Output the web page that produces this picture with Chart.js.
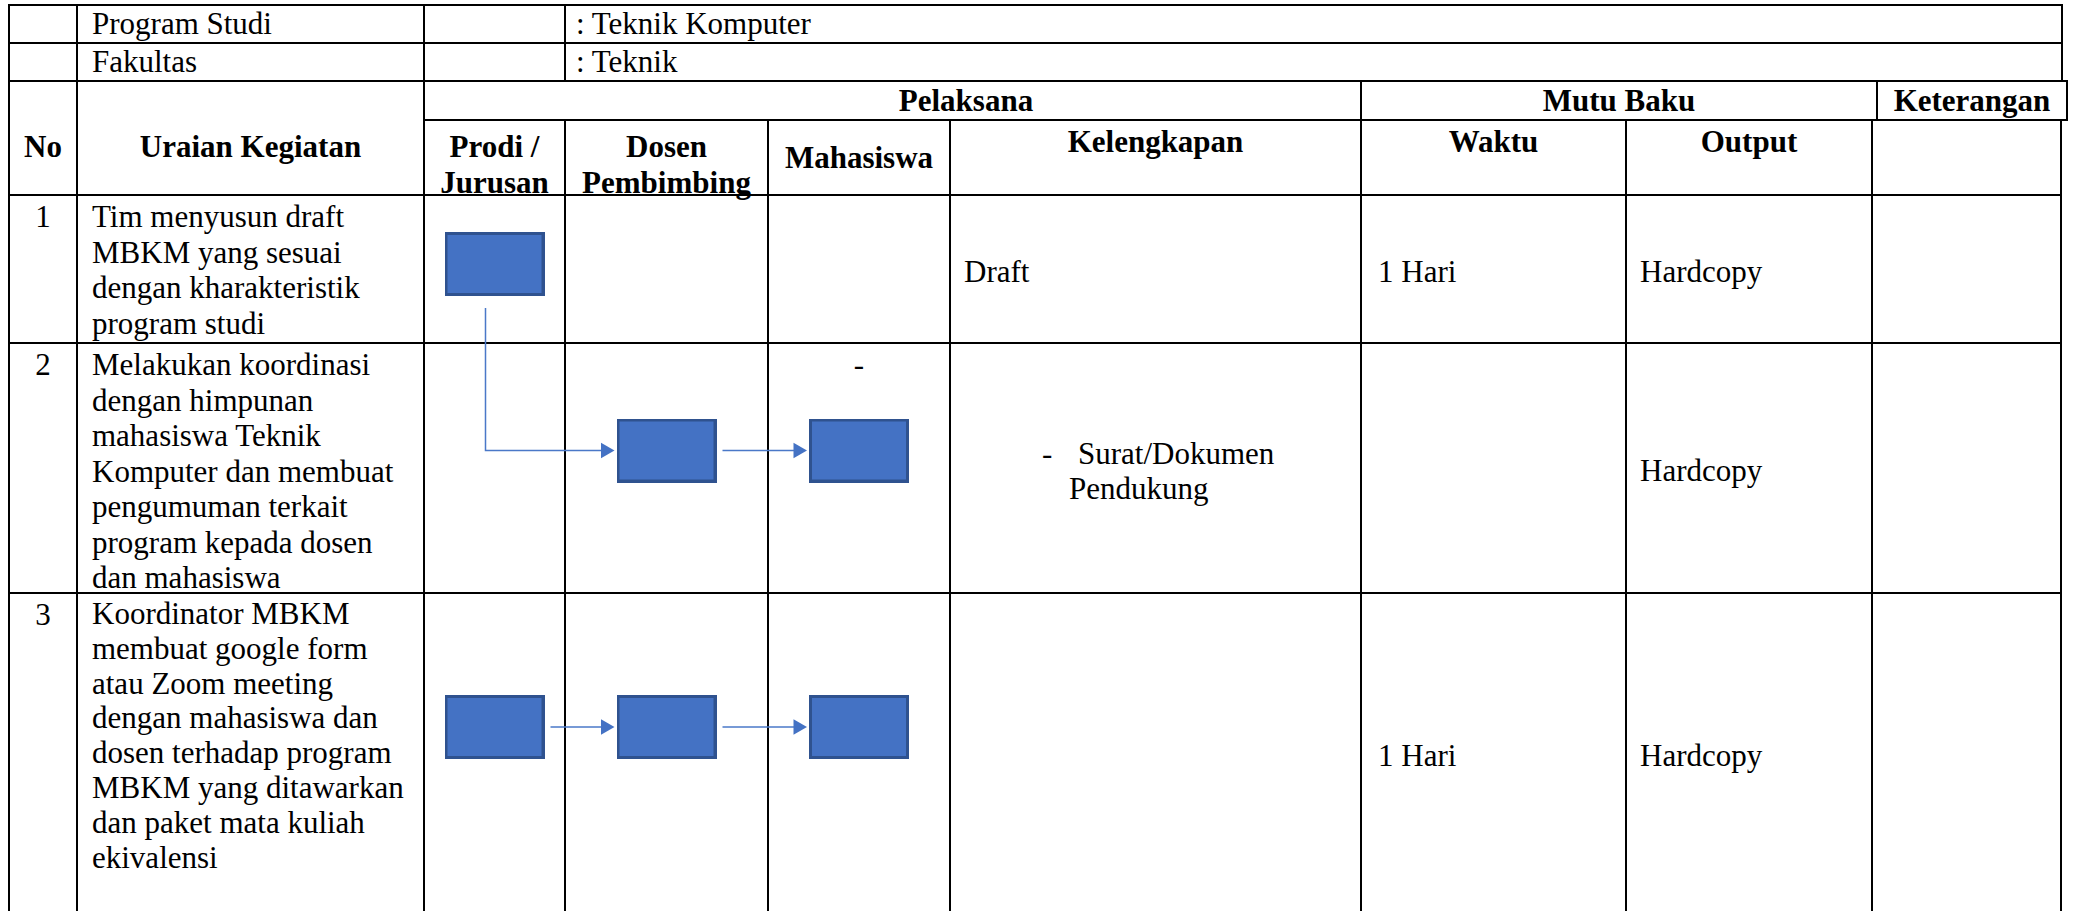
<!DOCTYPE html>
<html lang="id">
<head>
<meta charset="utf-8">
<title>SOP MBKM</title>
<script src="https://cdn.jsdelivr.net/npm/chart.js@4.4.1/dist/chart.umd.min.js"></script>
<style>
html,body{margin:0;padding:0;background:#fff;}
body{width:2075px;height:911px;overflow:hidden;position:relative;font-family:'Liberation Serif','Times New Roman',serif;font-size:31px;line-height:35.5px;color:#000;}
.c{position:absolute;box-sizing:border-box;border:2px solid #000;display:flex;flex-direction:column;white-space:nowrap;}
.b{font-weight:bold;}
#flow{position:absolute;left:0;top:0;width:2075px;height:911px;pointer-events:none;}
</style>
</head>
<body>
<div id="tbl"></div>
<canvas id="flow" width="2075" height="911"></canvas>
<script>
// isi tabel
var TOP_LABELS=['Program Studi','Fakultas'];
var TOP_VALUES=[': Teknik Komputer',': Teknik'];
var LANES=[['Prodi /','Jurusan'],['Dosen','Pembimbing'],['Mahasiswa']];
var COLS_RIGHT=['Kelengkapan','Waktu','Output'];
var STEP_NO=['1','2','3'];
var STEP_TEXT=[
  ['Tim menyusun draft','MBKM yang sesuai','dengan kharakteristik','program studi'],
  ['Melakukan koordinasi','dengan himpunan','mahasiswa Teknik','Komputer dan membuat','pengumuman terkait','program kepada dosen','dan mahasiswa'],
  ['Koordinator MBKM','membuat google form','atau Zoom meeting','dengan mahasiswa dan','dosen terhadap program','MBKM yang ditawarkan','dan paket mata kuliah','ekivalensi']
];
var LANE_NOTE=[['','',''],['','','-'],['','','']];
var KELENGKAPAN=[['Draft'],['- Surat/Dokumen','Pendukung'],[]];
var WAKTU=['1 Hari','','1 Hari'];
var OUTPUT=['Hardcopy','Hardcopy','Hardcopy'];

// alur: kotak (langkah, jalur) dan panah antar kotak
var BOX_STEP=[0,1,1,2,2,2];
var BOX_LANE=[0,1,2,0,1,2];
var LINK_FROM=[0,1,3,4];
var LINK_TO=[1,2,4,5];

// tata letak (px)
var COLX=[9,77,424,565,768,950,1361,1626,1872,2061];
var ROWY=[5,43,81,120,195,343,593,913];
var ROW_LH=[35.5,35.5,34.8];
var BOX_W=100, BOX_H=64, GAP=6, ARROW_R=9, ELBOW_DX=9;
var BLUE='#4472C4', BLUE_DARK='#2F528F', BLUE_LINE='#4a78c8';

var tbl=document.getElementById('tbl');
function cell(x0,x1,y0,y1,html,o){
  o=o||{};
  var d=document.createElement('div');
  d.className='c'+(o.b?' b':'');
  d.style.left=(x0-1)+'px'; d.style.top=(y0-1)+'px';
  d.style.width=(x1-x0+2)+'px'; d.style.height=(y1-y0+2)+'px';
  d.style.justifyContent=o.mid?'center':'flex-start';
  d.style.alignItems=o.ctr?'center':'flex-start';
  d.style.paddingLeft=(o.pl||0)+'px'; d.style.paddingTop=(o.pt||0)+'px';
  if(o.lh) d.style.lineHeight=o.lh+'px';
  if(html) d.innerHTML='<div style="text-align:'+(o.ctr?'center':'left')+'">'+html+'</div>';
  tbl.appendChild(d);
}
var X=COLX, Y=ROWY;

// baris identitas
TOP_LABELS.forEach(function(t,r){
  cell(X[0],X[1],Y[r],Y[r+1],'');
  cell(X[1],X[2],Y[r],Y[r+1],t,{mid:1,pl:92-X[1]-1});
  cell(X[2],X[3],Y[r],Y[r+1],'');
  cell(X[3],2062,Y[r],Y[r+1],TOP_VALUES[r],{mid:1,pl:576-X[3]-1});
});

// kepala tabel
cell(X[0],X[1],Y[2],Y[4],'No',{b:1,ctr:1,pt:47});
cell(X[1],X[2],Y[2],Y[4],'Uraian Kegiatan',{b:1,ctr:1,pt:47});
cell(X[2],X[6],Y[2],Y[3],'Pelaksana',{b:1,ctr:1,mid:1,pl:147});
cell(X[6],1877,Y[2],Y[3],'Mutu Baku',{b:1,ctr:1,mid:1});
cell(1877,2067,Y[2],Y[3],'Keterangan',{b:1,ctr:1,mid:1});
LANES.forEach(function(l,i){
  cell(X[2+i],X[3+i],Y[3],Y[4],l.join('<br>'),l.length>1?{b:1,ctr:1,pt:8}:{b:1,ctr:1,mid:1});
});
COLS_RIGHT.forEach(function(t,i){
  cell(X[5+i],X[6+i],Y[3],Y[4],t,{b:1,ctr:1,pt:3});
});
cell(X[8],X[9],Y[3],Y[4],'');

// isi langkah
STEP_NO.forEach(function(n,s){
  var y0=Y[4+s], y1=Y[5+s];
  cell(X[0],X[1],y0,y1,n,{ctr:1,pt:3});
  cell(X[1],X[2],y0,y1,STEP_TEXT[s].join('<br>'),{pl:14,pt:3,lh:ROW_LH[s]});
  LANE_NOTE[s].forEach(function(t,l){ cell(X[2+l],X[3+l],y0,y1,t,{ctr:1,pt:3}); });
  var k=KELENGKAPAN[s], kh='';
  if(k.length===1) kh=k[0];
  else if(k.length>1) kh='<div style="padding-left:'+(1042-X[5]-1-13)+'px"><span style="display:inline-block;width:36px">-</span>'+k[0].slice(2)+'<br><span style="padding-left:27px">'+k[1]+'</span></div>';
  cell(X[5],X[6],y0,y1,kh,{mid:1,pl:13,pt:6});
  cell(X[6],X[7],y0,y1,WAKTU[s],{mid:1,pl:16,pt:6});
  cell(X[7],X[8],y0,y1,OUTPUT[s],{mid:1,pl:13,pt:6});
  cell(X[8],X[9],y0,y1,'');
});

// bagan alur dengan Chart.js
function laneX(l){return (COLX[2+l]+COLX[3+l])/2;}
function stepY(s){var a=ROWY[4+s], h=ROWY[5+s]-a; return a+13+0.378*h;}
var pos=BOX_STEP.map(function(s,i){return {x:laneX(BOX_LANE[i]), y:stepY(s)};});

var boxImg=document.createElement('canvas');
boxImg.width=BOX_W; boxImg.height=BOX_H;
(function(){var g=boxImg.getContext('2d');g.fillStyle=BLUE_DARK;g.fillRect(0,0,BOX_W,BOX_H);g.fillStyle=BLUE;g.fillRect(3,3,BOX_W-6,BOX_H-6);})();

var linkSets=LINK_FROM.map(function(f,i){
  var t=LINK_TO[i], a=pos[f], b=pos[t];
  var endX=b.x-BOX_W/2-2-ARROW_R, pts;
  if(BOX_STEP[f]===BOX_STEP[t]) pts=[{x:a.x+BOX_W/2+GAP,y:b.y},{x:endX,y:b.y}];
  else pts=[{x:a.x-ELBOW_DX,y:a.y+BOX_H/2+GAP*2},{x:a.x-ELBOW_DX,y:b.y},{x:endX,y:b.y}];
  return {data:pts,showLine:true,borderColor:BLUE_LINE,borderWidth:1.5,pointRadius:0,tension:0,fill:false};
});
var heads={data:LINK_TO.map(function(t){var b=pos[t];return {x:b.x-BOX_W/2-2-ARROW_R,y:b.y};}),
  pointStyle:'triangle',pointRotation:90,pointRadius:ARROW_R,pointBackgroundColor:BLUE,pointBorderWidth:0,showLine:false};
var boxes={data:pos,pointStyle:boxImg,pointRadius:1,showLine:false};

new Chart(document.getElementById('flow'),{
  type:'scatter',
  data:{datasets:[boxes,heads].concat(linkSets)},
  options:{responsive:false,maintainAspectRatio:false,animation:false,devicePixelRatio:1,events:[],
    layout:{padding:0,autoPadding:false},
    scales:{x:{type:'linear',min:0,max:2075,display:false},y:{type:'linear',min:0,max:911,reverse:true,display:false}},
    plugins:{legend:{display:false},tooltip:{enabled:false}}}
});
</script>
</body>
</html>
